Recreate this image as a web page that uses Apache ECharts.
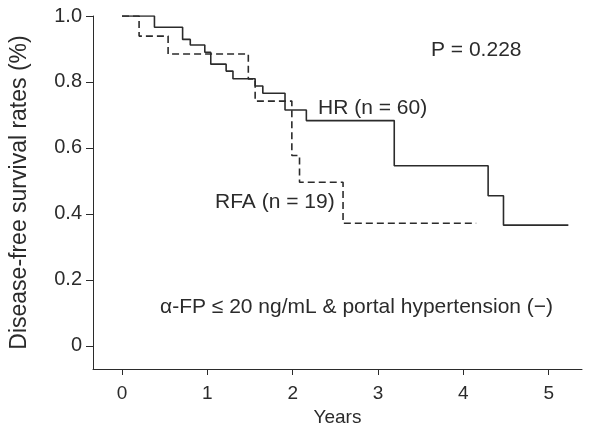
<!DOCTYPE html>
<html>
<head>
<meta charset="utf-8">
<script src="https://cdn.jsdelivr.net/npm/echarts@6/dist/echarts.min.js"></script>
<style>
  html, body { margin: 0; padding: 0; background: #fff; }
  #main { width: 596px; height: 436px; }
</style>
</head>
<body>
<div id="main"></div>
<script>
// Kaplan-Meier steps: [years, survival]
var hrCurve = [
    [0, 1.0], [0.38, 0.966], [0.71, 0.929], [0.80, 0.912], [0.97, 0.89],
    [1.04, 0.854], [1.22, 0.833], [1.30, 0.81], [1.56, 0.788], [1.65, 0.766],
    [1.91, 0.715], [2.16, 0.683], [3.19, 0.546], [4.29, 0.455], [4.47, 0.366],
    [5.23, 0.366]
];
var rfaCurve = [
    [0, 1.0], [0.2, 0.939], [0.54, 0.885], [1.48, 0.809], [1.56, 0.742],
    [1.99, 0.577], [2.08, 0.496], [2.59, 0.372], [4.15, 0.372]
];
var xTicks = [0, 1, 2, 3, 4, 5];
var yTicks = [0, 0.2, 0.4, 0.6, 0.8, 1.0];

var font = 'Liberation Sans, Arial, sans-serif';
var ink = '#2b2b2b';

var myChart = echarts.init(document.getElementById('main'));

function note(text, x, y) {
    return {
        type: 'text',
        x: x,
        y: y,
        style: {
            text: text,
            fontSize: 21,
            fontFamily: font,
            fill: ink,
            textVerticalAlign: 'middle',
            verticalAlign: 'middle'
        }
    };
}

var option = {
    animation: false,
    backgroundColor: '#fff',
    grid: { left: 93, top: 16, right: 14, bottom: 67 },
    xAxis: {
        type: 'value',
        min: -0.34,
        max: 5.39,
        name: 'Years',
        nameLocation: 'middle',
        nameGap: 38,
        nameTextStyle: { fontSize: 19, fontFamily: font, color: ink },
        splitLine: { show: false },
        axisLine: { onZero: false, lineStyle: { color: ink, width: 1 } },
        axisTick: { show: true, customValues: xTicks, length: 6, lineStyle: { color: ink } },
        axisLabel: {
            customValues: xTicks,
            margin: 15,
            fontSize: 19,
            fontFamily: font,
            color: ink
        }
    },
    yAxis: {
        type: 'value',
        min: -0.07,
        max: 1.0,
        name: 'Disease-free survival rates (%)',
        nameLocation: 'middle',
        nameGap: 62,
        nameTextStyle: { fontSize: 23, fontFamily: font, color: ink },
        splitLine: { show: false },
        axisLine: { show: true, onZero: false, lineStyle: { color: ink, width: 1 } },
        axisTick: { show: true, customValues: yTicks, length: 7, lineStyle: { color: ink } },
        axisLabel: {
            customValues: yTicks,
            margin: 11,
            fontSize: 20,
            fontFamily: font,
            color: ink,
            formatter: function (v) {
                return v === 0 ? '0' : v.toFixed(1);
            }
        }
    },
    series: [{
        name: 'HR',
        type: 'line',
        step: 'end',
        symbol: 'none',
        data: hrCurve,
        lineStyle: { color: ink, width: 1.6 }
    }, {
        name: 'RFA',
        type: 'line',
        step: 'end',
        symbol: 'none',
        data: rfaCurve,
        lineStyle: { color: ink, width: 1.6, type: [7, 4] }
    }],
    graphic: [
        note('P = 0.228', 431, 50),
        note('HR (n = 60)', 318, 108),
        note('RFA (n = 19)', 215, 202),
        note('\u03b1-FP \u2264 20 ng/mL & portal hypertension (\u2212)', 160, 307)
    ]
};
myChart.setOption(option);
</script>
</body>
</html>
